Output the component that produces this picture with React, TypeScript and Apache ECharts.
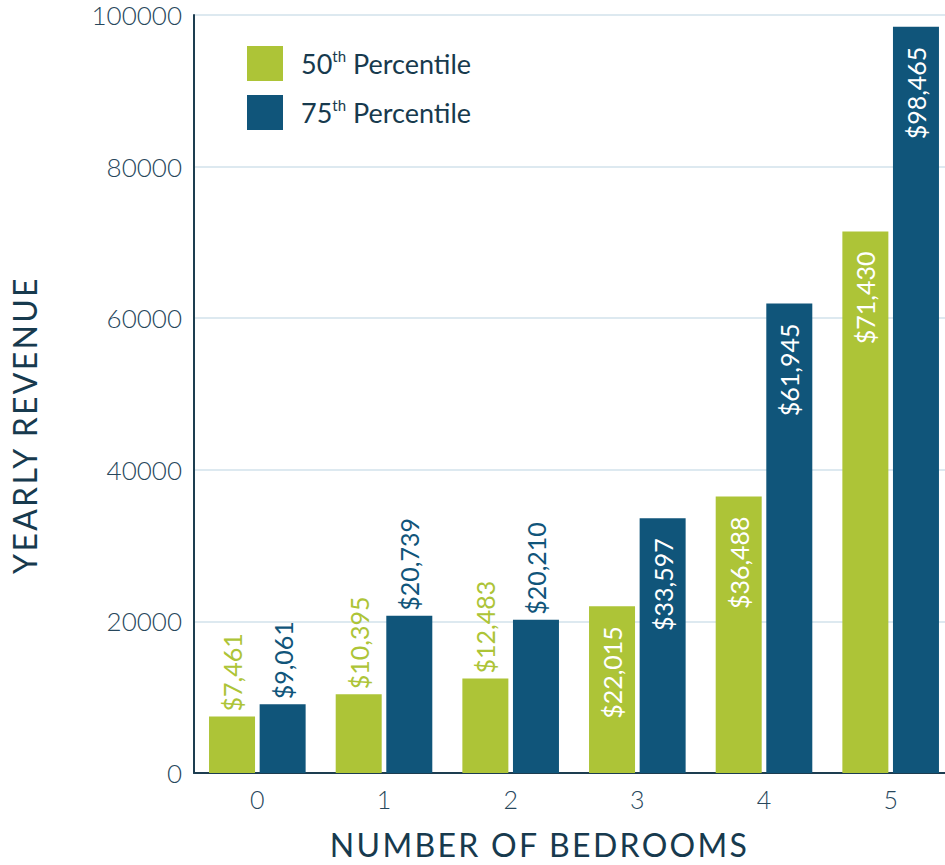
import React, { useEffect, useRef } from "react";
import * as echarts from "echarts";

const categories = ["0", "1", "2", "3", "4", "5"];
const p50 = [7461, 10395, 12483, 22015, 36488, 71430];
const p75 = [9061, 20739, 20210, 33597, 61945, 98465];
const yTicks = [0, 20000, 40000, 60000, 80000, 100000];
const insideThreshold = 21000;

const GREEN = "#adc437";
const BLUE = "#10557a";
const TEXT = "#27475c";
const TITLE = "#173a4e";
const FONT = "Lato";

function fmt(v: number) {
  return "$" + v.toLocaleString("en-US");
}

function makeData(values: number[], color: string) {
  return values.map((v) => {
    const inside = v > insideThreshold;
    return {
      value: v,
      label: inside
        ? {
            show: true,
            position: "insideTop",
            rotate: 90,
            align: "right",
            verticalAlign: "middle",
            distance: 20,
            color: "#ffffff",
            fontSize: 25,
            fontFamily: FONT,
            formatter: (p: any) => fmt(p.value),
          }
        : {
            show: true,
            position: "top",
            rotate: 90,
            align: "left",
            verticalAlign: "middle",
            distance: 5,
            color,
            fontSize: 25,
            fontFamily: FONT,
            formatter: (p: any) => fmt(p.value),
          },
    };
  });
}

export default function App() {
  const ref = useRef<HTMLDivElement>(null);
  useEffect(() => {
    const chart = echarts.init(ref.current!, null, { renderer: "svg" });
    chart.setOption({
      animation: false,
      textStyle: { fontFamily: FONT },
      grid: { left: 191, right: 0, top: 15, bottom: 77, containLabel: false },
      legend: {
        orient: "vertical",
        left: 242,
        top: 41,
        itemWidth: 36,
        itemHeight: 35,
        itemGap: 14,
        icon: "rect",
        textStyle: {
          color: TITLE,
          fontFamily: FONT,
          fontSize: 27,
          padding: [0, 0, 0, 13],
          rich: {
            a: { fontSize: 27, color: TITLE, fontFamily: FONT, lineHeight: 30 },
            b: { fontSize: 15, color: TITLE, fontFamily: FONT, verticalAlign: "top", lineHeight: 30, padding: [0, 0, 6, 0] },
          },
        },
        formatter: (name: string) => {
          const n = name.slice(0, 2);
          return `{a|${n}}{b|th}{a| Percentile}`;
        },
        data: ["50th Percentile", "75th Percentile"],
      },
      xAxis: {
        type: "category",
        data: categories,
        name: "NUMBER OF BEDROOMS",
        nameLocation: "middle",
        nameGap: 55,
        nameTextStyle: { color: TITLE, fontSize: 32, fontFamily: FONT, padding: [0, 69, 0, 0] },
        axisLine: { lineStyle: { color: "#1d3d50", width: 2 } },
        axisTick: { show: false },
        axisLabel: { color: TEXT, fontSize: 25, fontFamily: FONT, fontWeight: 300, margin: 13 },
      },
      yAxis: {
        type: "value",
        min: yTicks[0],
        max: yTicks[yTicks.length - 1],
        interval: yTicks[1] - yTicks[0],
        name: "YEARLY REVENUE",
        nameLocation: "middle",
        nameGap: 154,
        nameRotate: 90,
        nameTextStyle: { color: TITLE, fontSize: 32, fontFamily: FONT, padding: [0, 62, 0, 0] },
        axisLine: { show: true, lineStyle: { color: "#1d3d50", width: 2 } },
        axisTick: { show: false },
        axisLabel: {
          color: TEXT,
          fontSize: 26,
          fontFamily: FONT,
          fontWeight: 300,
          margin: 12,
          formatter: (v: number) => String(v),
        },
        splitLine: { lineStyle: { color: "#dde9f0", width: 2 } },
      },
      series: [
        {
          name: "50th Percentile",
          type: "bar",
          barWidth: 46,
          barGap: "10%",
          itemStyle: { color: GREEN },
          data: makeData(p50, GREEN),
        },
        {
          name: "75th Percentile",
          type: "bar",
          barWidth: 46,
          barGap: "10%",
          itemStyle: { color: BLUE },
          data: makeData(p75, BLUE),
        },
      ],
    });
    return () => chart.dispose();
  }, []);
  return (
    <div style={{ width: 945, height: 865, overflow: "hidden", background: "#fff" }}>
      <style>{`body{margin:0;overflow:hidden;} text[style*="32px"]{letter-spacing:2.3px;}`}</style>
      <div ref={ref} style={{ width: 954, height: 865 }} />
    </div>
  );
}
